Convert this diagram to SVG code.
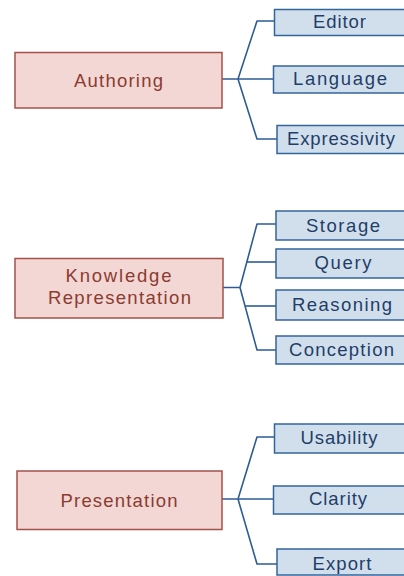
<svg xmlns="http://www.w3.org/2000/svg" width="404" height="576" viewBox="0 0 404 576">
<style>
.root rect{fill:#f2d7d4;stroke:#a3514a;stroke-width:1.5}
.root text{fill:#8c3b31;font-family:"Liberation Sans",Arial,sans-serif;font-size:18.5px;text-anchor:middle}
.leaf rect{fill:#d1dfed;stroke:#33659d;stroke-width:1.5}
.leaf text{fill:#1f3e68;font-family:"Liberation Sans",Arial,sans-serif;font-size:18.5px;text-anchor:middle}
.conn path{fill:none;stroke:#2d5c93;stroke-width:1.6;stroke-linejoin:round}
</style>
<rect width="404" height="576" fill="#ffffff"/>
<g class="conn" id="connectors">
<path d="M222,79 H238 L257,21 H274"/>
<path d="M238,79 H273"/>
<path d="M238,79 L257,139 H277"/>
<path d="M223,287.5 H240 L257,224 H276"/>
<path d="M247,262 H276"/>
<path d="M240,287.5 L257,350 H276"/>
<path d="M245.5,306 H276"/>
<path d="M222,499 H238 L257,437 H274"/>
<path d="M238,499 H273"/>
<path d="M238,499 L257,564 H277"/>
</g>
<g class="root" id="authoring"><rect x="15" y="52.5" width="207" height="55.5"/><text x="118.5" y="86.5" textLength="89" lengthAdjust="spacing">Authoring</text></g>
<g class="root" id="knowledge-representation"><rect x="15" y="258.5" width="208" height="59.5"/><text x="118.5" y="282" textLength="106" lengthAdjust="spacing">Knowledge</text><text x="119.5" y="304" textLength="143" lengthAdjust="spacing">Representation</text></g>
<g class="root" id="presentation"><rect x="17" y="471" width="205" height="58.5"/><text x="119" y="506.5" textLength="117" lengthAdjust="spacing">Presentation</text></g>
<g class="leaf" id="editor"><rect x="274.5" y="9.5" width="140" height="26"/><text x="339.5" y="28" textLength="53" lengthAdjust="spacing">Editor</text></g>
<g class="leaf" id="language"><rect x="273.5" y="66" width="140" height="27"/><text x="340" y="85" textLength="94" lengthAdjust="spacing">Language</text></g>
<g class="leaf" id="expressivity"><rect x="277" y="125.5" width="140" height="28"/><text x="341" y="145" textLength="108" lengthAdjust="spacing">Expressivity</text></g>
<g class="leaf" id="storage"><rect x="276" y="211" width="140" height="29"/><text x="343" y="231.5" textLength="74" lengthAdjust="spacing">Storage</text></g>
<g class="leaf" id="query"><rect x="276" y="249" width="140" height="29"/><text x="343" y="269" textLength="57" lengthAdjust="spacing">Query</text></g>
<g class="leaf" id="reasoning"><rect x="276" y="290" width="140" height="30"/><text x="342" y="311" textLength="100" lengthAdjust="spacing">Reasoning</text></g>
<g class="leaf" id="conception"><rect x="276" y="336" width="140" height="28"/><text x="341.5" y="356" textLength="105" lengthAdjust="spacing">Conception</text></g>
<g class="leaf" id="usability"><rect x="274.5" y="424" width="140" height="29"/><text x="339" y="443.5" textLength="77" lengthAdjust="spacing">Usability</text></g>
<g class="leaf" id="clarity"><rect x="273.5" y="486" width="140" height="28"/><text x="338" y="505" textLength="58" lengthAdjust="spacing">Clarity</text></g>
<g class="leaf" id="export"><rect x="277" y="549" width="140" height="26"/><text x="342" y="570" textLength="59" lengthAdjust="spacing">Export</text></g>
</svg>
